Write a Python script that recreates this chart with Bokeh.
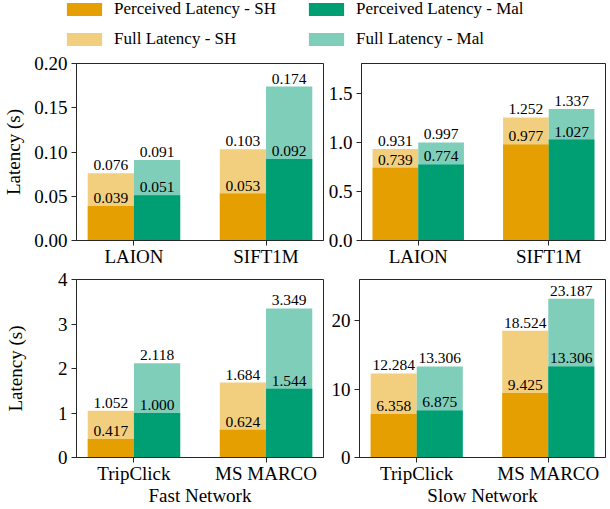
from bokeh.plotting import figure
from bokeh.models import (ColumnDataSource, FixedTicker, PrintfTickFormatter,
                          LabelSet, Legend, LegendItem, Range1d)
from bokeh.layouts import column, row
from bokeh.embed import file_html
from bokeh.resources import INLINE

FONT = "Liberation Serif"
C_PSH = "#E69F00"
C_FSH = "#F2CF7F"
C_PMAL = "#009E73"
C_FMAL = "#7FCEB9"
DARK = "#262626"

# ---- data ----
top_categories = ["LAION", "SIFT1M"]
bottom_categories = ["TripClick", "MS MARCO"]

fast_top_perceived_sh = [0.039, 0.053]
fast_top_full_sh = [0.076, 0.103]
fast_top_perceived_mal = [0.051, 0.092]
fast_top_full_mal = [0.091, 0.174]

slow_top_perceived_sh = [0.739, 0.977]
slow_top_full_sh = [0.931, 1.252]
slow_top_perceived_mal = [0.774, 1.027]
slow_top_full_mal = [0.997, 1.337]

fast_bot_perceived_sh = [0.417, 0.624]
fast_bot_full_sh = [1.052, 1.684]
fast_bot_perceived_mal = [1.000, 1.544]
fast_bot_full_mal = [2.118, 3.349]

slow_bot_perceived_sh = [6.358, 9.425]
slow_bot_full_sh = [12.284, 18.524]
slow_bot_perceived_mal = [6.875, 13.306]
slow_bot_full_mal = [13.306, 23.187]

tl_yticks = [0.0, 0.05, 0.10, 0.15, 0.20]
tr_yticks = [0.0, 0.5, 1.0, 1.5]
bl_yticks = [0, 1, 2, 3, 4]
br_yticks = [0, 10, 20]

legend_labels = ["Perceived Latency - SH", "Full Latency - SH",
                 "Perceived Latency - Mal", "Full Latency - Mal"]

BAR_W = 0.35


def make_panel(cats, psh, fsh, pmal, fmal, ymax, yticks, yfmt, width, height,
               mb_left, mb_right, mb_top, mb_bottom, ylabel=None, ylabel_standoff=5,
               xlabel=None):
    idx = list(range(len(cats)))
    src = ColumnDataSource(dict(
        xsh=[i - BAR_W / 2 for i in idx],
        xmal=[i + BAR_W / 2 for i in idx],
        psh=psh, fsh=fsh, pmal=pmal, fmal=fmal,
        psh_t=[f"{v:.3f}" for v in psh], fsh_t=[f"{v:.3f}" for v in fsh],
        pmal_t=[f"{v:.3f}" for v in pmal], fmal_t=[f"{v:.3f}" for v in fmal],
    ))
    p = figure(width=width, height=height, x_range=Range1d(-0.435, 1.435),
               y_range=Range1d(0, ymax), output_backend="svg", toolbar_location=None,
               min_border_left=mb_left, min_border_right=mb_right,
               min_border_top=mb_top, min_border_bottom=mb_bottom)
    p.vbar(x="xsh", top="fsh", width=BAR_W, color=C_FSH, line_color=None, source=src)
    p.vbar(x="xmal", top="fmal", width=BAR_W, color=C_FMAL, line_color=None, source=src)
    p.vbar(x="xsh", top="psh", width=BAR_W, color=C_PSH, line_color=None, source=src)
    p.vbar(x="xmal", top="pmal", width=BAR_W, color=C_PMAL, line_color=None, source=src)
    for xc, yc, tc in [("xsh", "fsh", "fsh_t"), ("xmal", "fmal", "fmal_t"),
                       ("xsh", "psh", "psh_t"), ("xmal", "pmal", "pmal_t")]:
        p.add_layout(LabelSet(x=xc, y=yc, text=tc, source=src, text_align="center",
                              text_baseline="alphabetic", y_offset=3,
                              text_font=FONT, text_font_size="15.5px",
                              text_color="black"))
    p.xgrid.visible = False
    p.ygrid.visible = False
    p.outline_line_color = DARK
    p.outline_line_width = 1
    p.outline_line_alpha = 1
    p.background_fill_color = "white"
    p.border_fill_color = "white"

    p.xaxis.ticker = FixedTicker(ticks=idx)
    p.xaxis.major_label_overrides = {i: c for i, c in zip(idx, cats)}
    p.yaxis.ticker = FixedTicker(ticks=yticks)
    p.yaxis.formatter = PrintfTickFormatter(format=yfmt)
    for ax in (p.xaxis[0], p.yaxis[0]):
        ax.axis_line_color = DARK
        ax.major_tick_line_color = DARK
        ax.minor_tick_line_color = None
        ax.major_tick_in = 0
        ax.major_tick_out = 5
        ax.major_label_text_font = FONT
        ax.major_label_text_font_size = "19px"
        ax.major_label_text_color = "black"
        ax.major_label_text_line_height = 1.0
        ax.axis_label_text_font = FONT
        ax.axis_label_text_font_size = "19px"
        ax.axis_label_text_font_style = "normal"
        ax.axis_label_text_color = "black"
        ax.axis_label_text_line_height = 1.0
    p.xaxis.major_label_standoff = 0
    p.yaxis.major_label_standoff = 4
    if ylabel:
        p.yaxis.axis_label = ylabel
        p.yaxis.axis_label_standoff = ylabel_standoff
    if xlabel:
        p.xaxis.axis_label = xlabel
        p.xaxis.axis_label_standoff = -2
    return p


LEG_H = 52
TOP_BORDER_T = 11
BOT_BORDER_T = 10
XLAB_B = 28
XTITLE_B = 52
H = (509 - LEG_H - TOP_BORDER_T - XLAB_B - BOT_BORDER_T - XTITLE_B) // 2
TOP_H = TOP_BORDER_T + H + XLAB_B
BOT_H = 509 - LEG_H - TOP_H
LW, RW = 325, 285

tl = make_panel(top_categories, fast_top_perceived_sh, fast_top_full_sh,
                fast_top_perceived_mal, fast_top_full_mal, 0.20, tl_yticks, "%.2f",
                LW, TOP_H, 76, 2, TOP_BORDER_T, XLAB_B, ylabel="Latency (s)",
                ylabel_standoff=7)
tr = make_panel(top_categories, slow_top_perceived_sh, slow_top_full_sh,
                slow_top_perceived_mal, slow_top_full_mal, 1.8, tr_yticks, "%.1f",
                RW, TOP_H, 34, 5, TOP_BORDER_T, XLAB_B)
bl = make_panel(bottom_categories, fast_bot_perceived_sh, fast_bot_full_sh,
                fast_bot_perceived_mal, fast_bot_full_mal, 4, bl_yticks, "%d",
                LW, BOT_H, 76, 2, BOT_BORDER_T, XTITLE_B, ylabel="Latency (s)",
                ylabel_standoff=29, xlabel="Fast Network")
br = make_panel(bottom_categories, slow_bot_perceived_sh, slow_bot_full_sh,
                slow_bot_perceived_mal, slow_bot_full_mal, 26, br_yticks, "%d",
                RW, BOT_H, 34, 5, BOT_BORDER_T, XTITLE_B, xlabel="Slow Network")

# ---- legend figure (proxy bars of zero height carry the legend glyphs) ----
lf = figure(width=LW + RW, height=LEG_H, x_range=Range1d(0, 1), y_range=Range1d(0, 1),
            x_axis_type=None, y_axis_type=None, output_backend="svg",
            toolbar_location=None, min_border=0)
lf.outline_line_color = None
lf.xgrid.visible = False
lf.ygrid.visible = False
colors = [C_PSH, C_FSH, C_PMAL, C_FMAL]
rends = [lf.vbar(x=[0.5], top=[0], bottom=[0], width=0.01, color=c, line_color=None)
         for c in colors]


def make_legend(items, loc):
    return Legend(items=items, location=loc, orientation="vertical",
                  label_text_font=FONT, label_text_font_size="17px",
                  label_text_color="black", label_standoff=8,
                  glyph_width=44, glyph_height=16, label_height=16,
                  spacing=10, padding=0, margin=0,
                  border_line_color=None, background_fill_alpha=0)


leg1 = make_legend([LegendItem(label=legend_labels[0], renderers=[rends[0]]),
                    LegendItem(label=legend_labels[1], renderers=[rends[1]])], (62, 3))
leg2 = make_legend([LegendItem(label=legend_labels[2], renderers=[rends[2]]),
                    LegendItem(label=legend_labels[3], renderers=[rends[3]])], (304, 3))
lf.add_layout(leg1, "center")
lf.add_layout(leg2, "center")

layout = column(lf, row(tl, tr), row(bl, br))
open("out.html", "w").write(file_html(layout, INLINE))
